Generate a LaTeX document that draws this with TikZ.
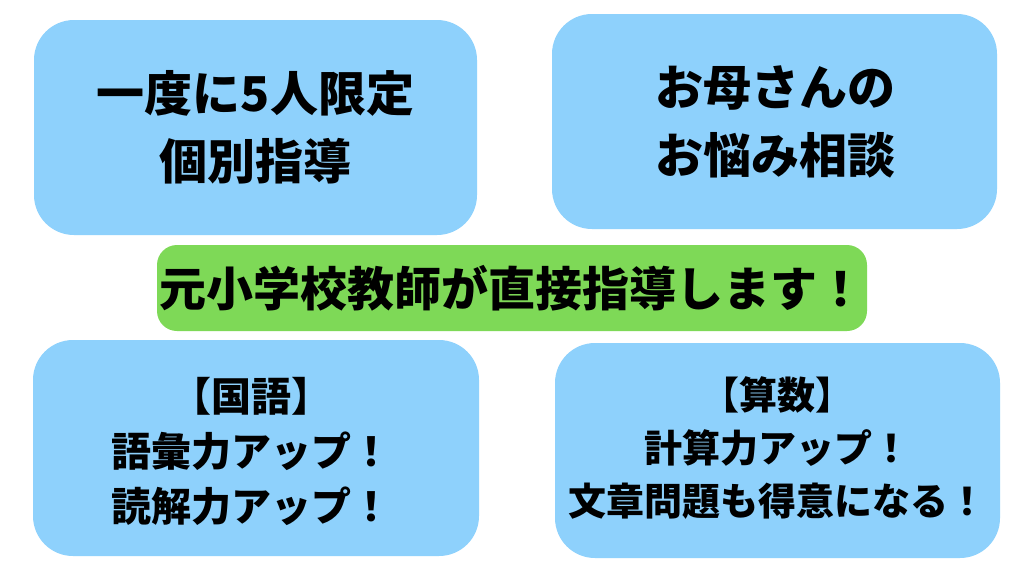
\documentclass[tikz,border=0pt]{standalone}
\usepackage{fontspec}
\setmainfont{Noto Sans CJK JP}
\definecolor{boxblue}{HTML}{8ED1FC}
\definecolor{boxgreen}{HTML}{7ED957}
\begin{document}
\begin{tikzpicture}[x=1pt,y=-1pt,
  bluebox/.style={fill=boxblue,draw=none,rounded corners=40pt},
  greenbox/.style={fill=boxgreen,draw=none,rounded corners=20pt},
  bigtxt/.style={align=center,font=\bfseries\fontsize{48}{68}\selectfont,text=black,inner sep=0pt},
  midtxt/.style={align=center,font=\bfseries\fontsize{47}{60}\selectfont,text=black,inner sep=0pt},
  smalltxt/.style={align=center,font=\bfseries\fontsize{38}{53}\selectfont,text=black,inner sep=0pt},
  smalltxtb/.style={align=center,font=\bfseries\fontsize{40}{55}\selectfont,text=black,inner sep=0pt}]
\useasboundingbox (0,0) rectangle (1024,576);
\fill[white] (0,0) rectangle (1024,576);
\filldraw[bluebox] (34,20) rectangle (477,235);
\filldraw[bluebox] (552,14) rectangle (997,229);
\filldraw[greenbox] (157,245) rectangle (867,331);
\filldraw[bluebox] (33,340) rectangle (479,556);
\filldraw[bluebox] (555,343) rectangle (1000,558);
\node[bigtxt] (tl) at (255.5,127.5) {一度に5人限定\\個別指導};
\node[bigtxt] (tr) at (775.5,121.5) {お母さんの\\お悩み相談};
\node[midtxt] (mid) at (512,288) {元小学校教師が直接指導します！};
\node[smalltxtb] (bl) at (251,451) {【国語】\\語彙力アップ！\\読解力アップ！};
\node[smalltxt] (br) at (777,448) {【算数】\\計算力アップ！\\文章問題も得意になる！};
\end{tikzpicture}
\end{document}
